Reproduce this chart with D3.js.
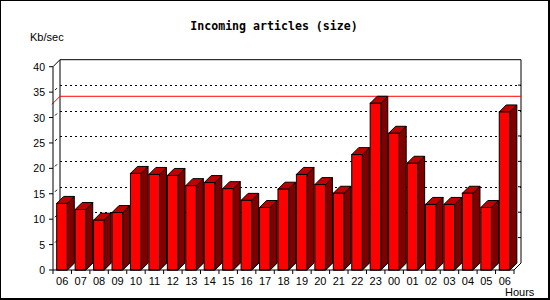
<!DOCTYPE html>
<html>
<head>
<meta charset="utf-8">
<script src="https://cdn.jsdelivr.net/npm/d3@7"></script>
<style>
    body { margin: 0; background: #fff; }
    text { font-family: "Liberation Sans", Arial, sans-serif; fill: #000; }
</style>
</head>
<body>
<div id="chart"></div>
<script>

// data
const hours = ["06", "07", "08", "09", "10", "11", "12", "13", "14", "15", "16", "17", "18",
    "19", "20", "21", "22", "23", "00", "01", "02", "03", "04", "05", "06"]
const kbPerSec = [13.1, 11.9, 9.8, 11.3, 19.0, 18.8, 18.6, 16.6, 17.2, 16.0, 13.7, 12.3, 15.9,
    18.8, 16.8, 15.1, 22.7, 32.8, 26.9, 21.0, 12.9, 12.9, 15.1, 12.3, 31.1]
const yTicks = [0, 5, 10, 15, 20, 25, 30, 35, 40]
const gridTicks = [10, 15, 20, 25, 30, 35]
const maxLine = 32.8

class BarChart3D {

    constructor(parentElement) {
        this.parentElement = parentElement
        this.initVis()
    }

    initVis() {
        let vis = this

        vis.width = 550
        vis.height = 300
        vis.dx = 7      // depth offset of the back plane
        vis.dy = -7

        vis.svg = d3.select("#" + vis.parentElement).append("svg")
            .attr("width", vis.width)
            .attr("height", vis.height)

        // frame: thin top/left, thicker right/bottom
        vis.svg.append("rect")
            .attr("width", vis.width).attr("height", vis.height)
            .attr("fill", "#000")
        vis.svg.append("rect")
            .attr("x", 1).attr("y", 1)
            .attr("width", 547).attr("height", 297)
            .attr("fill", "#fff")

        // scales
        vis.x = d3.scaleBand()
            .domain(d3.range(hours.length))
            .range([53, 514])

        vis.y = d3.scaleLinear()
            .domain([0, 40])
            .range([270, 66.7])

        // title + labels
        vis.svg.append("text")
            .text("Incoming articles (size)")
            .attr("x", 274).attr("y", 30)
            .attr("text-anchor", "middle")
            .style("font-family", "'DejaVu Sans Mono', monospace")
            .style("font-weight", "bold")
            .style("font-size", "11.6px")

        vis.svg.append("text")
            .text("Kb/sec")
            .attr("x", 30).attr("y", 41)
            .style("font-size", "11px")

        vis.svg.append("text")
            .text("Hours")
            .attr("x", 505).attr("y", 296)
            .style("font-size", "11px")

        vis.updateVis()
    }

    updateVis() {
        let vis = this
        let dx = vis.dx, dy = vis.dy
        let x0 = vis.x.range()[0], x1 = vis.x.range()[1]
        let yTop = vis.y(40) + dy, yBot = vis.y(0) + dy
        let xBack = x1 + dx

        // back plane
        let back = vis.svg.append("g")
        back.append("path")
            .attr("d", `M${x0 + dx},${yBot} V${yTop} H${xBack} V${yBot}`)
            .attr("fill", "none").attr("stroke", "#000")

        // dotted grid lines on back plane
        back.selectAll(".grid")
            .data(gridTicks)
            .enter().append("line")
            .attr("class", "grid")
            .attr("x1", x0 + dx).attr("x2", xBack)
            .attr("y1", d => Math.round(vis.y(d) + dy) + 0.5)
            .attr("y2", d => Math.round(vis.y(d) + dy) + 0.5)
            .attr("stroke", "#000")
            .attr("stroke-dasharray", "2,3")

        // right side ticks
        back.selectAll(".rtick")
            .data(yTicks.slice(1, -1))
            .enter().append("line")
            .attr("x1", xBack - 3).attr("x2", xBack)
            .attr("y1", d => vis.y(d) + dy).attr("y2", d => vis.y(d) + dy)
            .attr("stroke", "#000")

        // max line
        let ym = vis.y(maxLine)
        back.append("path")
            .attr("d", `M${x0 - 1},${ym + 1} L${x0 + dx},${ym + dy} H${xBack}`)
            .attr("fill", "none").attr("stroke", "#ff0000")

        // bars
        let bw = vis.x.bandwidth()
        let off = bw * 0.2, w = bw * 0.575

        let bars = vis.svg.selectAll(".bar")
            .data(kbPerSec)
            .enter().append("g")
            .attr("class", "bar")

        bars.each(function(d, i) {
            let g = d3.select(this)
            let l = vis.x(i) + off, r = l + w
            let b = vis.y(0), t = vis.y(d)

            // floor shadow
            g.append("path")
                .attr("d", `M${l},${b} L${l + dx},${b + dy} H${r + dx} L${r},${b} Z`)
                .attr("fill", "#808080").attr("stroke", "#000")
            // side
            g.append("path")
                .attr("d", `M${r},${b} L${r + dx},${b + dy} V${t + dy} L${r},${t} Z`)
                .attr("fill", "#800000").attr("stroke", "#000")
            // top
            g.append("path")
                .attr("d", `M${l},${t} L${l + dx},${t + dy} H${r + dx} L${r},${t} Z`)
                .attr("fill", "#c00000").attr("stroke", "#000")
            // front
            g.append("rect")
                .attr("x", l).attr("y", t)
                .attr("width", w).attr("height", b - t)
                .attr("fill", "#ff0000").attr("stroke", "#000")
        })

        // front axes
        let axes = vis.svg.append("g")
        axes.append("path")
            .attr("d", `M${x0 + dx},${yTop} L${x0},${vis.y(40)} V${vis.y(0)} H${x1} L${xBack},${yBot}`)
            .attr("fill", "none").attr("stroke", "#000")

        // y ticks + small depth marks
        axes.selectAll(".ytick")
            .data(yTicks)
            .enter().append("line")
            .attr("x1", x0 - 4).attr("x2", x0)
            .attr("y1", d => vis.y(d)).attr("y2", d => vis.y(d))
            .attr("stroke", "#000")

        axes.selectAll(".ymark")
            .data(yTicks.slice(1, -1))
            .enter().append("line")
            .attr("x1", x0 + 2).attr("x2", x0 + 4)
            .attr("y1", d => vis.y(d) - 2).attr("y2", d => vis.y(d) - 4)
            .attr("stroke", "#000")

        axes.selectAll(".ylabel")
            .data(yTicks)
            .enter().append("text")
            .text(d => d)
            .attr("x", x0 - 8)
            .attr("y", d => vis.y(d) + 4)
            .attr("text-anchor", "end")
            .style("font-size", "10.5px")

        // x ticks at band edges
        axes.selectAll(".xtick")
            .data(d3.range(hours.length + 1))
            .enter().append("line")
            .attr("x1", i => x0 + i * bw).attr("x2", i => x0 + i * bw)
            .attr("y1", vis.y(0)).attr("y2", vis.y(0) + 4)
            .attr("stroke", "#000")

        axes.selectAll(".xlabel")
            .data(hours)
            .enter().append("text")
            .text(d => d)
            .attr("x", (d, i) => vis.x(i) + bw / 2)
            .attr("y", 285)
            .attr("text-anchor", "middle")
            .style("font-size", "11px")
    }
}

new BarChart3D("chart")
</script>
</body>
</html>
